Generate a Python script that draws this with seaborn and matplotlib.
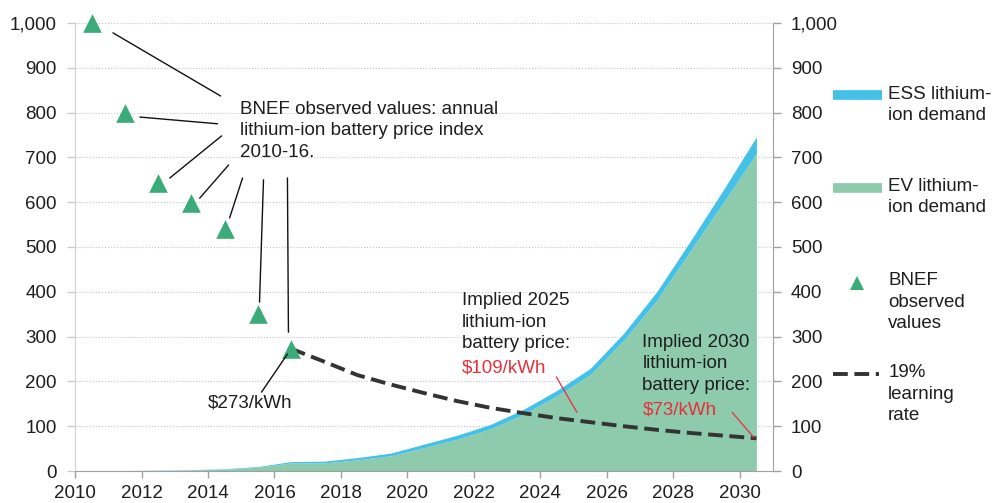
import numpy as np
import pandas as pd
import matplotlib.pyplot as plt
import seaborn as sns
from matplotlib.lines import Line2D

# demand areas (stacked), one value per year
years = list(range(2010, 2031))
ev_demand = [0.5, 1, 1.5, 2.5, 4, 8.5, 18, 18, 25, 34, 52, 71, 94, 127, 168, 215, 291, 381, 490, 599, 709]
ess_demand = [0, 0, 0.5, 0.5, 1, 1.5, 3, 4, 5, 6, 8, 9, 10, 11, 12, 14, 16, 19, 22, 28, 37]

# BNEF observed battery price index
obs_years = [2010, 2011, 2012, 2013, 2014, 2015, 2016]
obs_price = [1000, 800, 642, 599, 540, 350, 273]

# 19% learning rate projection
lr_years = list(range(2016, 2031))
lr_price = [273, 244, 214, 193, 174, 156, 141, 129, 118, 109, 100, 92, 85, 79, 73]

y_ticks = list(range(0, 1001, 100))
x_ticks = list(range(2010, 2031, 2))

GREEN_AREA = '#8ecbad'
BLUE_AREA = '#45c1e8'
TRI_GREEN = '#3aab79'
DASH = '#333333'
RED = '#e8303a'
TXT = '#1e1e1e'

sns.set_style("white")
plt.rcParams['font.family'] = ['Liberation Sans', 'DejaVu Sans']
FS = 13.5
LS = 1.34

demand = pd.DataFrame({'year': years, 'ev': ev_demand, 'ess': ess_demand})
demand['x'] = demand['year'] + 0.5   # values sit in the middle of each year
obs = pd.DataFrame({'x': [y + 0.5 for y in obs_years], 'price': obs_price})
lr = pd.DataFrame({'x': [y + 0.5 for y in lr_years], 'price': lr_price})

fig = plt.figure(figsize=(9.94, 5.03), dpi=100)
ax = fig.add_axes([0.0755, 0.0636, 0.7022, 0.8907])

ax.stackplot(demand['x'], demand['ev'], demand['ess'],
             colors=[GREEN_AREA, BLUE_AREA], lw=0, zorder=2)

sns.lineplot(data=lr, x='x', y='price', ax=ax, color=DASH, lw=2.8,
             linestyle=(0, (3.8, 1.7)), zorder=4)
sns.scatterplot(data=obs, x='x', y='price', ax=ax, marker='^', s=180,
                color=TRI_GREEN, linewidth=0, clip_on=False, zorder=5)

ax.set_xlim(2010, 2031)
ax.set_ylim(0, 1000)
ax.set_xlabel('')
ax.set_ylabel('')
ax.set_xticks(x_ticks)
ax.set_xticklabels([str(t) for t in x_ticks])
ax.set_yticks(y_ticks)
ax.set_yticklabels([f'{t:,}' for t in y_ticks])
ax.tick_params(axis='y', left=True, length=6, width=1, color='#cccccc', pad=7,
               labelsize=FS, labelcolor=TXT)
ax.tick_params(axis='x', bottom=True, length=5, width=1, color='#a0a0a0', pad=5,
               labelsize=FS, labelcolor=TXT)
ax.yaxis.grid(True, ls=':', color='#c4c4c4', lw=0.8)
ax.set_axisbelow(True)
for s in ['top', 'right']:
    ax.spines[s].set_visible(False)
ax.spines['left'].set_color('#d0d0d0')
ax.spines['bottom'].set_color('#a0a0a0')

ax2 = ax.twinx()
ax2.set_ylim(0, 1000)
ax2.set_yticks(y_ticks)
ax2.set_yticklabels([f'{t:,}' for t in y_ticks])
ax2.tick_params(axis='y', right=True, length=6, width=1, color='#a0a0a0', pad=7,
                labelsize=FS, labelcolor=TXT)
for s in ['top', 'left', 'bottom']:
    ax2.spines[s].set_visible(False)
ax2.spines['right'].set_color('#a0a0a0')

# leader lines for the observed values
leaders = [((2011.14, 978), (2014.38, 837)),
           ((2011.95, 790), (2014.29, 775)),
           ((2012.85, 654), (2014.41, 748)),
           ((2013.75, 609), (2014.62, 683)),
           ((2014.65, 565), (2015.04, 654)),
           ((2015.55, 377), (2015.67, 650)),
           ((2016.42, 310), (2016.39, 654)),
           ((2015.61, 176), (2016.39, 261))]
for a, b in leaders:
    ax.annotate('', xy=b, xytext=a,
                arrowprops=dict(arrowstyle='-', lw=1.0, color='#111111',
                                shrinkA=0, shrinkB=0), zorder=6)
for a, b in [((2024.48, 210), (2025.10, 131)), ((2029.77, 131), (2030.43, 74))]:
    ax.annotate('', xy=b, xytext=a,
                arrowprops=dict(arrowstyle='-', lw=0.9, color=RED,
                                shrinkA=0, shrinkB=0), zorder=6)

ax.text(2014.95, 826, 'BNEF observed values: annual\nlithium-ion battery price index\n2010-16.',
        fontsize=FS, color=TXT, va='top', ha='left', linespacing=LS, zorder=7)
ax.text(2014.0, 170, '$273/kWh', fontsize=FS, color=TXT, va='top', ha='left', zorder=7)
ax.text(2021.63, 399, 'Implied 2025\nlithium-ion\nbattery price:', fontsize=FS,
        color=TXT, va='top', ha='left', linespacing=LS, zorder=7)
ax.text(2021.63, 249, '$109/kWh', fontsize=FS, color=RED, va='top', ha='left', zorder=7)
ax.text(2027.07, 306, 'Implied 2030\nlithium-ion\nbattery price:', fontsize=FS,
        color=TXT, va='top', ha='left', linespacing=LS, zorder=7)
ax.text(2027.07, 156, '$73/kWh', fontsize=FS, color=RED, va='top', ha='left', zorder=7)

# legend drawn by hand so handles line up with the first text line
hx0, hx1, tx = 0.838, 0.887, 0.8935
fig.add_artist(Line2D([hx0, hx1], [0.811, 0.811], color=BLUE_AREA, lw=7,
                      solid_capstyle='butt', transform=fig.transFigure))
fig.add_artist(Line2D([hx0, hx1], [0.627, 0.627], color=GREEN_AREA, lw=7,
                      solid_capstyle='butt', transform=fig.transFigure))
fig.add_artist(Line2D([0.862], [0.437], color=TRI_GREEN, marker='^', ms=10, lw=0,
                      markeredgewidth=0, transform=fig.transFigure))
fig.add_artist(Line2D([hx0, hx1 - 0.003], [0.256, 0.256], color=DASH, lw=2.8,
                      linestyle=(0, (3.8, 1.7)), transform=fig.transFigure))
legend_items = [(0.830, 'ESS lithium-\nion demand'),
                (0.646, 'EV lithium-\nion demand'),
                (0.459, 'BNEF\nobserved\nvalues'),
                (0.276, '19%\nlearning\nrate')]
for ty, label in legend_items:
    fig.text(tx, ty, label, fontsize=FS, color=TXT, va='top', ha='left', linespacing=LS)

fig.savefig('out.png', dpi=100)
